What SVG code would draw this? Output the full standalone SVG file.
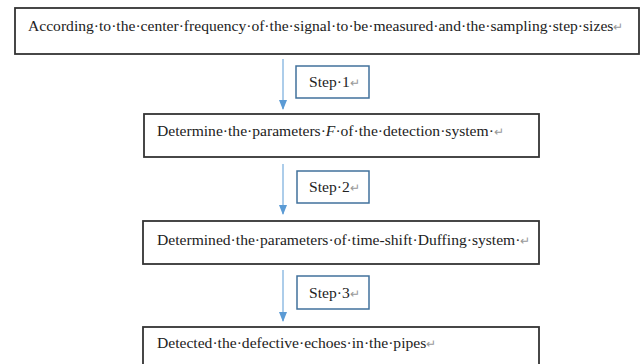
<svg xmlns="http://www.w3.org/2000/svg" width="641" height="364" viewBox="0 0 641 364">
<style>
.box{fill:#fff;stroke:#333;stroke-width:1.8}
.step{fill:#fff;stroke:#41719c;stroke-width:1.5}
.t{font-family:"Liberation Serif","Times New Roman",serif;font-size:15.6px;fill:#222}
.m{fill:#999;font-size:12px}
.c{stroke:#5b9bd5;stroke-width:1;fill:none}
</style>
<defs>
<marker id="ah" markerWidth="10" markerHeight="8" refX="9" refY="4" orient="auto" markerUnits="userSpaceOnUse">
<path d="M0,0 L10,4 L0,8 Z" fill="#5b9bd5"/>
</marker>
</defs>
<g id="connectors">
<line class="c" x1="283" y1="59" x2="283" y2="109" marker-end="url(#ah)"/>
<line class="c" x1="283" y1="164" x2="283" y2="214" marker-end="url(#ah)"/>
<line class="c" x1="283" y1="270" x2="283" y2="321" marker-end="url(#ah)"/>
</g>
<g id="n1">
<rect class="box" x="15" y="8" width="624" height="46"/>
<text class="t" x="28" y="31">According·to·the·center·frequency·of·the·signal·to·be·measured·and·the·sampling·step·sizes<tspan class="m">↵</tspan></text>
</g>
<g id="s1">
<rect class="step" x="296" y="66" width="73" height="32"/>
<text class="t" x="309" y="87">Step·1<tspan class="m">↵</tspan></text>
</g>
<g id="n2">
<rect class="box" x="144" y="114" width="395" height="43"/>
<text class="t" x="157" y="136">Determine·the·parameters·<tspan font-style="italic">F</tspan>·of·the·detection·system·<tspan class="m">↵</tspan></text>
</g>
<g id="s2">
<rect class="step" x="297" y="171" width="72" height="32"/>
<text class="t" x="309" y="192">Step·2<tspan class="m">↵</tspan></text>
</g>
<g id="n3">
<rect class="box" x="143" y="221" width="396" height="43"/>
<text class="t" x="157" y="245">Determined·the·parameters·of·time-shift·Duffing·system·<tspan class="m">↵</tspan></text>
</g>
<g id="s3">
<rect class="step" x="297" y="276" width="72" height="33"/>
<text class="t" x="309" y="298">Step·3<tspan class="m">↵</tspan></text>
</g>
<g id="n4">
<rect class="box" x="143" y="327" width="396" height="50"/>
<text class="t" x="157" y="348">Detected·the·defective·echoes·in·the·pipes<tspan class="m">↵</tspan></text>
</g>
</svg>
